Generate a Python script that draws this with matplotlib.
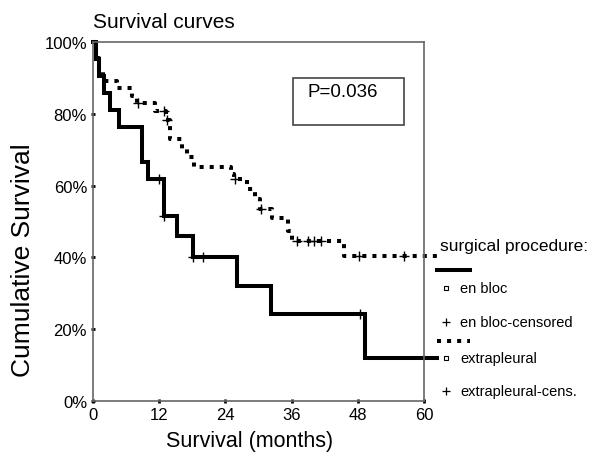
import matplotlib.pyplot as plt
from matplotlib.lines import Line2D
from matplotlib.patches import Rectangle

plt.rcParams['font.family'] = ['Liberation Sans', 'DejaVu Sans']

# Kaplan-Meier steps (months, % surviving)
en_bloc_t = [0, 0.5, 1.0, 2.0, 3.0, 4.7, 8.8, 10.0, 12.8, 15.2, 18.2, 26.1, 32.3, 49.3, 62.3]
en_bloc_s = [100, 95.2, 90.5, 85.7, 81.0, 76.2, 66.7, 61.9, 51.6, 46.0, 40.0, 32.0, 24.2, 12.0, 12.0]
en_bloc_cens_t = [11.9, 12.8, 18.2, 20.0, 48.4]
en_bloc_cens_s = [61.9, 51.6, 40.0, 40.0, 24.2]

extra_t = [0, 0.3, 0.6, 1.0, 1.8, 4.3, 7.0, 8.0, 11.3, 13.3, 14.0, 16.2, 17.1, 18.3,
           25.0, 25.6, 28.0, 29.3, 30.2, 32.4, 35.3, 36.1, 45.5, 62.7]
extra_s = [100, 97.8, 95.6, 92.0, 89.2, 87.1, 85.0, 83.0, 80.9, 78.2, 73.0, 70.2, 67.9, 65.1,
           63.2, 61.8, 59.1, 56.3, 53.5, 50.9, 47.4, 44.7, 40.5, 40.5]
extra_cens_t = [8.2, 12.8, 13.5, 25.8, 30.4, 37.0, 38.9, 40.1, 41.3, 48.2, 56.4]
extra_cens_s = [83.0, 80.9, 78.2, 61.8, 53.5, 44.7, 44.7, 44.7, 44.7, 40.5, 40.5]

x_ticks = [0, 12, 24, 36, 48, 60]
y_ticks = [0, 20, 40, 60, 80, 100]
y_labels = ['0%', '20%', '40%', '60%', '80%', '100%']
p_text = 'P=0.036'

W, H = 589, 456
fig = plt.figure(figsize=(W / 100, H / 100), dpi=100)
ax = fig.add_axes([93 / W, 1 - 402 / H, 331 / W, 359 / H])

solid_kw = dict(color='black', lw=2.9, solid_joinstyle='miter')
dot_kw = dict(color='black', lw=2.9, linestyle=(0, (1, 1.5)), dash_capstyle='butt')

ax.step(en_bloc_t, en_bloc_s, where='post', clip_on=False, **solid_kw)
ax.step(extra_t, extra_s, where='post', clip_on=False, **dot_kw)
ax.plot(en_bloc_cens_t, en_bloc_cens_s, '+', ms=7, mew=1, color='black', clip_on=False)
ax.plot(extra_cens_t, extra_cens_s, '+', ms=7, mew=1, color='black', clip_on=False)

ax.set_xlim(0, 60)
ax.set_ylim(0, 100)
ax.set_xticks(x_ticks)
ax.set_yticks(y_ticks)
ax.set_yticklabels(y_labels)
for s in ax.spines.values():
    s.set_color('#666666')
    s.set_linewidth(1.2)
ax.tick_params(direction='inout', length=2.5, width=2, color='black', labelsize=12, pad=3)

# p-value box
ax.add_patch(Rectangle((0.604, 0.769), 0.336, 0.131, transform=ax.transAxes,
                       fill=False, ec='#444444', lw=1.2))
ax.text(0.755, 0.8635, p_text, transform=ax.transAxes, fontsize=13.5,
        ha='center', va='center')

fig.text(93 / W, 1 - 23 / H, 'Survival curves', fontsize=15, va='center')
fig.text(23 / W, 1 - 260 / H, 'Cumulative Survival', fontsize=19, rotation=90,
         ha='center', va='center')
fig.text(250 / W, 1 - 442 / H, 'Survival (months)', fontsize=15.5, ha='center', va='center')

# legend drawn by hand, outside the axes
def fx(px):
    return px / W


def fy(py):
    return 1 - py / H


fig.text(fx(440), fy(247), 'surgical procedure:', fontsize=12.5, va='center')
fig.add_artist(Line2D([fx(437), fx(470)], [fy(271), fy(271)],
                      transform=fig.transFigure, **solid_kw))
fig.add_artist(Line2D([fx(437), fx(470)], [fy(342), fy(342)],
                      transform=fig.transFigure, **dot_kw))
rows = [('s', 'en bloc', 289), ('+', 'en bloc-censored', 323),
        ('s', 'extrapleural', 359), ('+', 'extrapleural-cens.', 392)]
for mk, label, py in rows:
    if mk == 's':
        fig.add_artist(Line2D([fx(446)], [fy(py)], marker='s', ms=3.5, mfc='white',
                              mec='black', mew=0.8, transform=fig.transFigure))
    else:
        fig.add_artist(Line2D([fx(446)], [fy(py)], marker='+', ms=6, mew=0.9,
                              color='black', transform=fig.transFigure))
    fig.text(fx(460), fy(py), label, fontsize=10.5, va='center')

fig.savefig('out.png', dpi=100)
